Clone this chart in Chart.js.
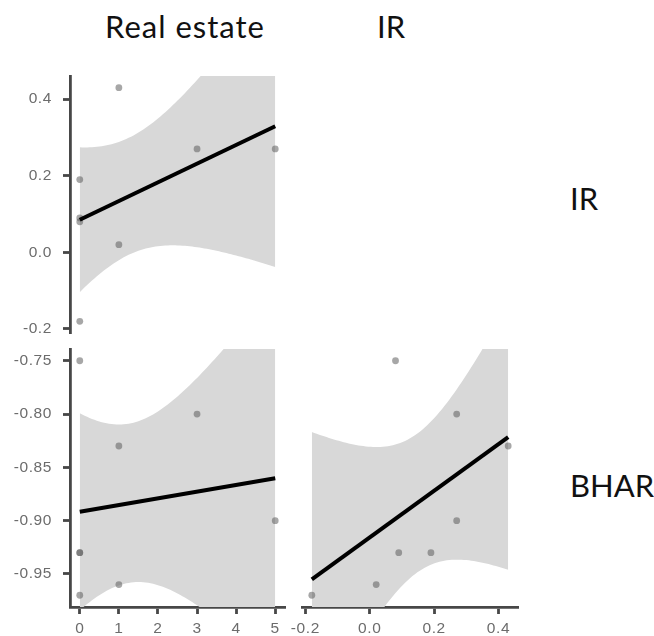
<!DOCTYPE html>
<html>
<head>
<meta charset="utf-8">
<script src="https://cdn.jsdelivr.net/npm/chart.js@4/dist/chart.umd.min.js"></script>
<style>
  html, body { margin: 0; padding: 0; background: #fff; }
  #wrap { position: relative; width: 654px; height: 636px; overflow: hidden; background: #fff; }
  #wrap canvas { position: absolute; }
  .lab { position: absolute; font-family: Lato, "Noto Sans", sans-serif; font-size: 31px;
         line-height: 31px; color: #111; white-space: nowrap; }
</style>
</head>
<body>
<div id="wrap">
  <canvas id="pTop" width="300" height="315" style="left:0px;top:45px;width:300px;height:315px"></canvas>
  <canvas id="pBL" width="300" height="316" style="left:0px;top:320px;width:300px;height:316px"></canvas>
  <canvas id="pBR" width="270" height="316" style="left:270px;top:320px;width:270px;height:316px"></canvas>
  <div class="lab" style="left:105px;top:11px;letter-spacing:1px">Real estate</div>
  <div class="lab" style="left:377px;top:11px">IR</div>
  <div class="lab" style="left:570px;top:183px">IR</div>
  <div class="lab" style="left:570px;top:470px">BHAR</div>
</div>
<script>
// Observations (one entry per firm)
const realEstate = [0, 3, 1, 5, 0, 0, 1, 0];
const ir         = [0.08, 0.27, 0.43, 0.27, 0.09, 0.19, 0.02, -0.18];
const bhar       = [-0.75, -0.80, -0.83, -0.90, -0.93, -0.93, -0.96, -0.97];

// Tick labels
const realEstateTicks = [0, 1, 2, 3, 4, 5];
const irTicks         = [-0.2, 0.0, 0.2, 0.4];
const bharTicks       = [-0.95, -0.90, -0.85, -0.80, -0.75];

// 97.5% Student t quantile, 6 degrees of freedom (n = 8)
const T975 = 2.446912;

// Axis limits: data range padded by 5% on each side
function padded(v) {
  const lo = Math.min(...v), hi = Math.max(...v), d = (hi - lo) * 0.05;
  return [lo - d, hi + d];
}

// Least-squares line with 95% confidence band for the mean
function linearFit(xs, ys) {
  const n = xs.length;
  const mx = xs.reduce((a, b) => a + b, 0) / n;
  const my = ys.reduce((a, b) => a + b, 0) / n;
  let sxx = 0, sxy = 0;
  for (let i = 0; i < n; i++) { sxx += (xs[i] - mx) ** 2; sxy += (xs[i] - mx) * (ys[i] - my); }
  const b = sxy / sxx, a = my - b * mx;
  let sse = 0;
  for (let i = 0; i < n; i++) sse += (ys[i] - a - b * xs[i]) ** 2;
  const s = Math.sqrt(sse / (n - 2));
  const lo = Math.min(...xs), hi = Math.max(...xs);
  const line = [{ x: lo, y: a + b * lo }, { x: hi, y: a + b * hi }];
  const upper = [], lower = [];
  const steps = 80;
  for (let k = 0; k <= steps; k++) {
    const x = lo + (hi - lo) * k / steps;
    const yh = a + b * x;
    const h = T975 * s * Math.sqrt(1 / n + (x - mx) ** 2 / sxx);
    upper.push({ x, y: yh + h });
    lower.push({ x, y: yh - h });
  }
  return { line, upper, lower };
}

const AXIS = '#474747';
const LABEL = '#6c6c6c';
const tickFont = { family: '"Liberation Sans", Arial, sans-serif', size: 15.5 };

// Slightly looser spacing for the tick numbers
const spacing = {
  id: 'tickSpacing',
  beforeDraw(chart) { chart.ctx.letterSpacing = '0.6px'; }
};

function axisScale(opts) {
  const { vals, digits, range, display, vertical, size } = opts;
  return {
    type: 'linear',
    display,
    min: range[0],
    max: range[1],
    afterBuildTicks: s => { s.ticks = vals.map(v => ({ value: v })); },
    afterFit: s => { if (vertical) s.width = size; else s.height = size; },
    border: { display: true, color: AXIS, width: 2.8 },
    grid: { display: true, drawOnChartArea: false, drawTicks: true,
            tickLength: 7, tickWidth: 2.8, tickColor: AXIS },
    ticks: { color: LABEL, font: tickFont, padding: vertical ? 11 : 5,
             maxRotation: 0, autoSkip: false,
             callback: v => Number(v).toFixed(digits) }
  };
}

function panel(id, xs, ys, xScale, yScale, padding) {
  const fit = linearFit(xs, ys);
  const pts = xs.map((x, i) => ({ x, y: ys[i] }));
  return new Chart(document.getElementById(id), {
    type: 'line',
    data: {
      datasets: [
        { data: fit.upper, borderWidth: 0, pointRadius: 0, fill: false, order: 3 },
        { data: fit.lower, borderWidth: 0, pointRadius: 0, order: 3,
          fill: { target: '-1' }, backgroundColor: 'rgb(216,216,216)' },
        { data: pts, showLine: false, pointRadius: 3.4, pointBorderWidth: 0,
          pointBackgroundColor: 'rgba(95,95,95,0.55)', order: 2 },
        { data: fit.line, borderColor: '#000', borderWidth: 4, pointRadius: 0,
          fill: false, order: 1 }
      ]
    },
    options: {
      responsive: false,
      animation: false,
      events: [],
      layout: { padding },
      plugins: { legend: { display: false }, tooltip: { enabled: false } },
      scales: { x: xScale, y: yScale }
    },
    plugins: [spacing]
  });
}

const reRange = padded(realEstate);
const irRange = padded(ir);
const bharRange = padded(bhar);

// Real estate vs IR
panel('pTop', realEstate, ir,
  axisScale({ vals: realEstateTicks, digits: 0, range: reRange, display: false, vertical: false, size: 0 }),
  axisScale({ vals: irTicks, digits: 1, range: irRange, display: true, vertical: true, size: 70 }),
  { top: 31, right: 15, bottom: 27, left: 0 });

// Real estate vs BHAR
panel('pBL', realEstate, bhar,
  axisScale({ vals: realEstateTicks, digits: 0, range: reRange, display: true, vertical: false, size: 29 }),
  axisScale({ vals: bharTicks, digits: 2, range: bharRange, display: true, vertical: true, size: 70 }),
  { top: 29, right: 15, bottom: 0, left: 0 });

// IR vs BHAR
panel('pBR', ir, bhar,
  axisScale({ vals: irTicks, digits: 1, range: irRange, display: true, vertical: false, size: 29 }),
  axisScale({ vals: bharTicks, digits: 2, range: bharRange, display: false, vertical: true, size: 0 }),
  { top: 29, right: 22, bottom: 0, left: 32 });
</script>
</body>
</html>
